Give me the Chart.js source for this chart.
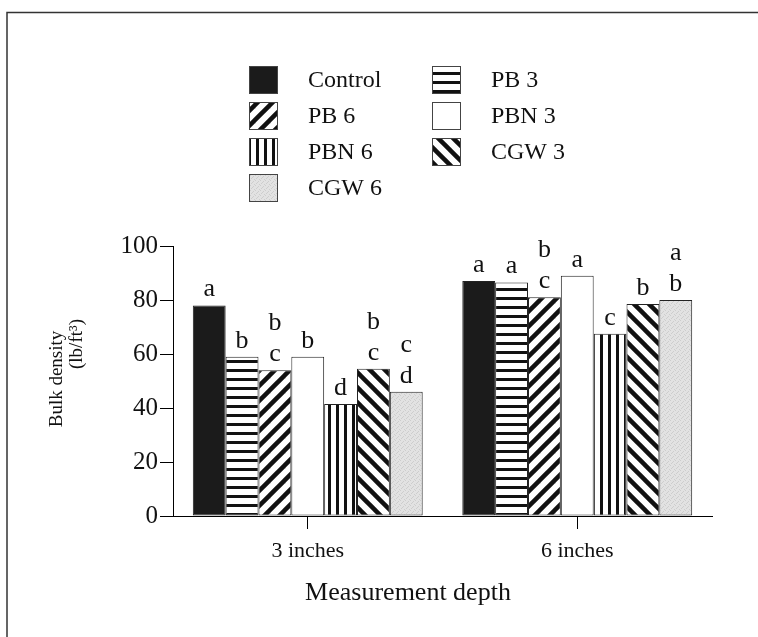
<!DOCTYPE html>
<html>
<head>
<meta charset="utf-8">
<script src="https://cdn.jsdelivr.net/npm/chart.js@4.4.1/dist/chart.umd.min.js"></script>
<style>
  body { margin: 0; background: #fff; }
  #wrap { width: 758px; height: 637px; }
</style>
</head>
<body>
<div id="wrap"><canvas id="chart" width="758" height="637"></canvas></div>
<script>
// data
const categories = ["3 inches", "6 inches"];
const treatments = ["Control", "PB 3", "PB 6", "PBN 3", "PBN 6", "CGW 3", "CGW 6"];
const density3in = [78, 59, 54, 59, 41.5, 54.5, 46];
const density6in = [87, 86.5, 81, 89, 67.5, 78.5, 80];
const letters3in = ["a", "b", "bc", "b", "d", "bc", "cd"];
const letters6in = ["a", "a", "bc", "a", "c", "b", "ab"];
const yTicks = [0, 20, 40, 60, 80, 100];

const serif = "'Liberation Serif', 'DejaVu Serif', serif";
const ink = "#111";

// fill patterns for the bars
function makeFill(kind) {
    if (kind === "solid") return "#1b1b1b";
    if (kind === "white") return "#ffffff";
    const c = document.createElement("canvas");
    const g = c.getContext("2d");
    if (kind === "hstripe") {
        c.width = 8; c.height = 9;
        g.fillStyle = "#fff"; g.fillRect(0, 0, 8, 9);
        g.fillStyle = ink; g.fillRect(0, 0, 8, 3);
    } else if (kind === "vstripe") {
        c.width = 8; c.height = 8;
        g.fillStyle = "#fff"; g.fillRect(0, 0, 8, 8);
        g.fillStyle = ink; g.fillRect(0, 0, 3, 8);
    } else if (kind === "fwd" || kind === "back") {
        const s = 15;
        c.width = s; c.height = s;
        g.fillStyle = "#fff"; g.fillRect(0, 0, s, s);
        g.strokeStyle = ink; g.lineWidth = 4.5;
        const segs = kind === "fwd"
            ? [[-s, s, s, -s], [0, s, s, 0], [0, 2 * s, 2 * s, 0]]
            : [[0, 0, s, s], [-s, 0, s, 2 * s], [0, -s, 2 * s, s]];
        segs.forEach(p => { g.beginPath(); g.moveTo(p[0], p[1]); g.lineTo(p[2], p[3]); g.stroke(); });
    } else if (kind === "stipple") {
        c.width = 5; c.height = 5;
        g.fillStyle = "#e2e2e2"; g.fillRect(0, 0, 5, 5);
        g.fillStyle = "#cdcdcd";
        [[0, 0], [3, 1], [1, 3], [4, 4], [2, 2]].forEach(p => g.fillRect(p[0], p[1], 1, 1));
    }
    return g.createPattern(c, "repeat");
}

const fillKinds = ["solid", "hstripe", "fwd", "white", "vstripe", "back", "stipple"];
const fills = fillKinds.map(makeFill);

const datasets = treatments.map((name, i) => ({
    label: name,
    data: [density3in[i], density6in[i]],
    backgroundColor: fills[i],
    borderColor: "#222",
    borderWidth: 1,
    borderSkipped: false
}));

// frame, legend, axis titles and significance letters
const decorations = {
    id: "decorations",
    beforeDraw(chart) {
        const ctx = chart.ctx;
        ctx.save();
        ctx.fillStyle = "#fff";
        ctx.fillRect(0, 0, chart.width, chart.height);
        ctx.strokeStyle = "#333";
        ctx.lineWidth = 1.5;
        ctx.beginPath();
        ctx.moveTo(7, chart.height);
        ctx.lineTo(7, 12.5);
        ctx.lineTo(chart.width, 12.5);
        ctx.stroke();
        ctx.restore();
    },
    afterDraw(chart) {
        const ctx = chart.ctx;
        ctx.save();
        // legend in two columns
        ctx.font = "24px " + serif;
        ctx.textBaseline = "middle";
        ctx.textAlign = "left";
        treatments.forEach((name, i) => {
            const col = i % 2, row = Math.floor(i / 2);
            const x = col === 0 ? 249 : 432;
            const y = 66 + row * 36;
            ctx.fillStyle = fills[i];
            ctx.fillRect(x, y, 29, 28);
            ctx.strokeStyle = "#444";
            ctx.lineWidth = 1;
            ctx.strokeRect(x + 0.5, y + 0.5, 28, 27);
            ctx.fillStyle = ink;
            ctx.fillText(name, x + 59, y + 15);
        });

        // x axis title (sits left of the plot centre in the original)
        ctx.fillStyle = ink;
        ctx.textAlign = "center";
        ctx.font = "26px " + serif;
        ctx.fillText("Measurement depth", 408, 593);

        // y axis title
        ctx.font = "19px " + serif;
        ctx.save();
        ctx.translate(57, 379);
        ctx.rotate(-Math.PI / 2);
        ctx.fillText("Bulk density", 0, 0);
        ctx.restore();
        ctx.save();
        ctx.translate(77, 344);
        ctx.rotate(-Math.PI / 2);
        ctx.fillText("(lb/ft\u00b3)", 0, 0);
        ctx.restore();

        // letters above the bars
        ctx.font = "26px " + serif;
        ctx.textBaseline = "alphabetic";
        const letterSets = [letters3in, letters6in];
        chart.data.datasets.forEach((ds, i) => {
            const meta = chart.getDatasetMeta(i);
            meta.data.forEach((bar, j) => {
                const chars = letterSets[j][i].split("");
                chars.forEach((ch, k) => {
                    const fromBottom = chars.length - 1 - k;
                    ctx.fillText(ch, bar.x, bar.y - 9 - fromBottom * 31);
                });
            });
        });
        ctx.restore();
    }
};

new Chart(document.getElementById("chart"), {
    type: "bar",
    data: { labels: categories, datasets: datasets },
    options: {
        responsive: false,
        animation: false,
        layout: { padding: { top: 246, right: 46, left: 0, bottom: 0 } },
        datasets: { bar: { categoryPercentage: 0.853, barPercentage: 1 } },
        plugins: {
            legend: { display: false },
            tooltip: { enabled: false }
        },
        scales: {
            x: {
                offset: true,
                grid: { offset: false, drawOnChartArea: false, drawTicks: true, tickLength: 13, color: "#000" },
                border: { display: true, color: "#000", width: 1 },
                ticks: { color: ink, padding: 9, font: { family: serif, size: 22 } },
                afterFit(scale) { scale.height = 121; }
            },
            y: {
                min: 0,
                max: 100,
                afterBuildTicks(scale) { scale.ticks = yTicks.map(v => ({ value: v })); },
                grid: { drawOnChartArea: false, drawTicks: true, tickLength: 13, color: "#000" },
                border: { display: true, color: "#000", width: 1 },
                ticks: { color: ink, padding: 2, font: { family: serif, size: 25 } },
                afterFit(scale) { scale.width = 173; }
            }
        }
    },
    plugins: [decorations]
});
</script>
</body>
</html>
